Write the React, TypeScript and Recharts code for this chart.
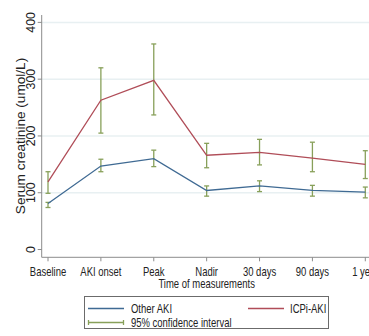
import { LineChart, Line, XAxis, YAxis, CartesianGrid, ErrorBar, Legend, Label } from 'recharts';

const categories = ['Baseline', 'AKI onset', 'Peak', 'Nadir', '30 days', '90 days', '1 year'];
const otherMean = [81, 147, 160, 104, 112, 104, 101];
const otherLo = [74, 137, 146, 94, 102, 94, 91];
const otherHi = [83, 159, 175, 112, 121, 113, 110];
const icpiMean = [119, 263, 298, 166, 171, 161, 150];
const icpiLo = [99, 205, 237, 144, 149, 137, 125];
const icpiHi = [137, 320, 362, 187, 194, 189, 174];
const yTicks = [0, 100, 200, 300, 400];

const BLUE = '#3f6a93';
const RED = '#b04d58';
const GREEN = '#88a05a';
const SQUEEZE = 0.79;

const data = categories.map((cat, i) => ({
  cat,
  other: otherMean[i],
  otherErr: [otherMean[i] - otherLo[i], otherHi[i] - otherMean[i]],
  icpi: icpiMean[i],
  icpiErr: [icpiMean[i] - icpiLo[i], icpiHi[i] - icpiMean[i]],
}));

const XTick = ({ x, y, payload }: any) => (
  <text transform={`translate(${x},${y + 8.7}) scale(${SQUEEZE},1)`} textAnchor="middle" fontSize={12} fill="#222">
    {payload.value}
  </text>
);

const YTick = ({ x, y, payload }: any) => (
  <text x={x} y={y} transform={`rotate(-90, ${x}, ${y})`} textAnchor="middle" fontSize={12.4} fill="#222">
    {payload.value}
  </text>
);

const LegendBox = () => (
  <div style={{ width: 245, height: 33, border: '1px solid #6b6b6b', background: '#fff', boxSizing: 'border-box' }}>
    <svg width={243} height={31} style={{ display: 'block' }}>
      <line x1={3} x2={39} y1={11.5} y2={11.5} stroke={BLUE} strokeWidth={1.3} />
      <text transform={`translate(46,16) scale(${SQUEEZE},1)`} fontSize={12} fill="#222">Other AKI</text>
      <line x1={163} x2={199} y1={11.5} y2={11.5} stroke={RED} strokeWidth={1.3} />
      <text transform={`translate(205,16) scale(${SQUEEZE},1)`} fontSize={12} fill="#222">ICPi-AKI</text>
      <line x1={3} x2={39} y1={25.5} y2={25.5} stroke={GREEN} strokeWidth={1.3} />
      <line x1={3.5} x2={3.5} y1={23} y2={28} stroke={GREEN} strokeWidth={1.3} />
      <line x1={38.5} x2={38.5} y1={23} y2={28} stroke={GREEN} strokeWidth={1.3} />
      <text transform={`translate(46,30) scale(${SQUEEZE},1)`} fontSize={12} fill="#222">95% confidence interval</text>
    </svg>
  </div>
);

export default function App() {
  return (
    <div style={{ position: 'absolute', left: 0, top: 0, width: 369, height: 336, overflow: 'hidden', background: '#fff', fontFamily: '"Liberation Sans", Arial, sans-serif' }}>
      <LineChart width={400} height={336} data={data} margin={{ top: 15, right: 28.4, left: 0, bottom: 0 }}>
        <CartesianGrid vertical={false} horizontalValues={[100, 200, 300, 400]} stroke="#e8f0f2" strokeWidth={1.5} />
        <XAxis
          dataKey="cat"
          height={78.7}
          padding={{ left: 6.3, right: 6.3 }}
          tickSize={4}
          tickMargin={6}
          stroke="#8c8c8c"
          tick={<XTick />}
          interval={0}
        >
          <Label
            content={({ viewBox }: any) => (
              <text
                transform={`translate(${viewBox.x + viewBox.width / 2},${viewBox.y + 31}) scale(${SQUEEZE},1)`}
                textAnchor="middle"
                fontSize={12}
                fill="#222"
              >
                Time of measurements
              </text>
            )}
          />
        </XAxis>
        <YAxis
          width={41.7}
          domain={[-13.7, 413]}
          ticks={yTicks}
          tickSize={4}
          tickMargin={2.7}
          stroke="#8c8c8c"
          tick={<YTick />}
          interval={0}
        >
          <Label
            content={() => (
              <text x={25} y={136} transform="rotate(-90, 25, 136)" textAnchor="middle" fontSize={13.6} fill="#222">
                Serum creatinine (umol/L)
              </text>
            )}
          />
        </YAxis>
        <Line dataKey="other" name="Other AKI" stroke={BLUE} strokeWidth={1.3} dot={false} isAnimationActive={false}>
          <ErrorBar dataKey="otherErr" direction="y" width={2.5} stroke={GREEN} strokeWidth={1.3} />
        </Line>
        <Line dataKey="icpi" name="ICPi-AKI" stroke={RED} strokeWidth={1.3} dot={false} isAnimationActive={false}>
          <ErrorBar dataKey="icpiErr" direction="y" width={2.5} stroke={GREEN} strokeWidth={1.3} />
        </Line>
        <Legend
          layout="vertical"
          align="center"
          verticalAlign="middle"
          wrapperStyle={{ left: 84, top: 296, width: 245 }}
          content={() => <LegendBox />}
        />
      </LineChart>
    </div>
  );
}
